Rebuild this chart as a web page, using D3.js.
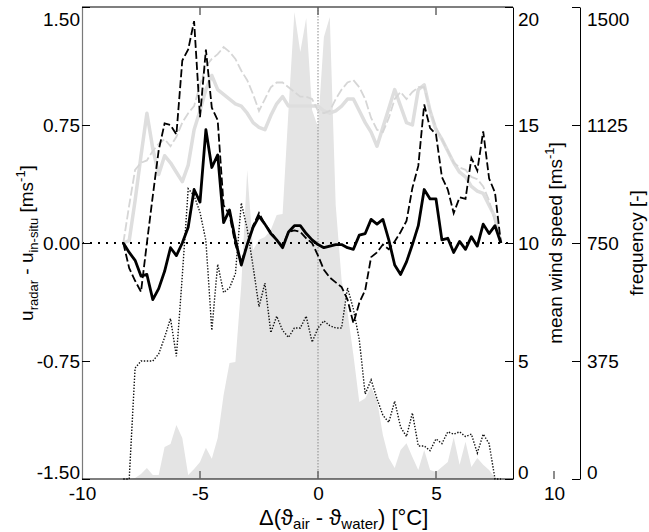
<!DOCTYPE html>
<html><head><meta charset="utf-8">
<script src="https://cdn.jsdelivr.net/npm/d3@7"></script>
<style>
body{margin:0;background:#fff}
svg text{font-family:"Liberation Sans",Arial,Helvetica,sans-serif;fill:#000}
</style>
</head><body>
<svg id="c" width="649" height="532"></svg>
<script>
// ---- DATA ----
const tempDiff = [-8.25,-8,-7.75,-7.5,-7.25,-7,-6.75,-6.5,-6.25,-6,-5.75,-5.5,-5.25,-5,-4.75,-4.5,-4.25,-4,-3.75,-3.5,-3.25,-3,-2.75,-2.5,-2.25,-2,-1.75,-1.5,-1.25,-1,-0.75,-0.5,-0.25,0,0.25,0.5,0.75,1,1.25,1.5,1.75,2,2.25,2.5,2.75,3,3.25,3.5,3.75,4,4.25,4.5,4.75,5,5.25,5.5,5.75,6,6.25,6.5,6.75,7,7.25,7.5,7.75];
// u_radar - u_in-situ (left axis)
const diffMean = [0.00,-0.06,-0.11,-0.21,-0.20,-0.36,-0.29,-0.18,-0.03,-0.08,0.00,0.10,0.34,0.26,0.72,0.48,0.56,0.13,0.21,0.02,-0.14,-0.01,0.10,0.17,0.12,0.06,0.02,-0.03,0.07,0.11,0.11,0.06,0.02,-0.01,-0.03,-0.02,-0.01,-0.01,-0.03,-0.04,0.05,0.06,0.15,0.12,0.15,0.02,-0.14,-0.20,-0.12,-0.01,0.11,0.34,0.28,0.28,0.02,0.03,-0.06,0.01,-0.04,0.04,-0.02,0.12,0.06,0.11,0.00];
const diffStd = [0,-0.16,-0.24,-0.31,0.00,0.30,0.59,0.76,0.75,0.69,1.16,1.23,1.41,0.80,1.23,0.86,0.78,0.24,0.18,-0.01,-0.12,-0.01,0.11,0.19,0.12,0.07,0.02,-0.02,0.07,0.08,0.07,0.03,0.00,-0.08,-0.17,-0.22,-0.25,-0.28,-0.36,-0.51,-0.38,-0.30,-0.09,-0.06,-0.01,-0.04,0.01,0.07,0.14,0.35,0.49,0.88,0.73,0.69,0.42,0.34,0.19,0.29,0.28,0.54,0.46,0.71,0.41,0.32,0.00];
// mean wind speed (middle axis)
const windRadar = [10.0,10.1,11.8,13.7,15.5,14.0,12.9,13.7,13.4,13.0,12.6,13.3,14.8,15.6,16.5,17.1,16.5,16.3,16.1,15.9,15.8,15.5,15.1,14.9,14.8,15.4,15.9,16.2,15.8,15.8,15.8,15.8,15.8,15.8,15.6,15.5,15.6,15.8,16.1,16.1,15.6,15.1,14.7,14.1,14.9,15.7,16.5,15.8,15.1,15.0,16.5,16.7,15.6,14.8,14.4,13.9,13.4,13.0,12.8,12.4,12.2,12.1,11.6,11.1,10.0];
const windInSitu = [10.0,11.6,13.1,13.4,13.5,13.9,14.2,14.4,14.1,14.5,15.1,15.5,15.8,16.7,17.5,17.8,18.0,18.3,18.1,17.8,17.3,16.9,16.3,15.6,16.1,16.6,16.8,16.8,16.6,16.4,16.2,16.2,16.1,15.6,15.5,15.6,16.1,16.5,16.8,16.9,16.6,16.1,15.3,14.8,14.7,15.3,16.1,16.4,16.1,16.4,16.6,16.6,15.6,14.9,14.4,13.9,13.4,13.2,13.1,12.8,12.7,12.4,11.8,10.9,10.0];
const windDotted = [0,0,4.7,5.0,5.0,5.0,5.3,6.0,6.8,5.2,8.6,12.3,12.0,11.3,10.1,6.3,9.1,7.9,8.1,8.7,11.7,10.6,9.0,7.3,8.3,6.2,6.9,6.3,6.0,6.4,6.4,6.9,5.8,6.4,6.7,6.5,6.4,6.4,8.1,7.2,5.9,3.6,4.2,3.4,2.7,2.4,3.3,2.2,1.8,2.8,1.4,1.4,1.2,1.7,1.5,2.0,1.9,2.0,1.8,1.9,1.1,1.9,1.5,0,0];
// frequency (right axis)
const frequency = [0,0,3,16,35,13,13,102,111,172,130,13,32,54,99,64,130,267,369,372,617,982,728,760,769,791,839,842,1173,1484,1357,1465,1173,1119,1405,1468,871,632,531,394,245,257,292,251,140,67,35,92,114,70,29,92,29,22,38,54,133,45,118,38,67,45,29,3,0];

const xTicks = [-10,-5,0,5,10];
const xTickLabels = ["-10","-5","0","5","10"];
const leftTicks = [-1.5,-0.75,0,0.75,1.5];
const leftTickLabels = ["-1.50","-0.75","0.00","0.75","1.50"];
const windTicks = [0,5,10,15,20];
const windTickLabels = ["0","5","10","15","20"];
const freqTicks = [0,375,750,1125,1500];
const freqTickLabels = ["0","375","750","1125","1500"];

// ---- SCALES ----
const svg = d3.select("#c");
const x = d3.scaleLinear().domain([-10,10]).range([82,554]);
const yL = d3.scaleLinear().domain([-1.5,1.5]).range([479,7]);
const yW = d3.scaleLinear().domain([0,20]).range([479,7]);
const yF = d3.scaleLinear().domain([0,1500]).range([479,7]);
const xR = 513; // right end of plot frame (wind axis)

// frequency area
svg.append("path")
  .attr("d", d3.area().x((d,i)=>x(tempDiff[i])).y0(yF(0)).y1(d=>yF(d))(frequency))
  .attr("fill","#e4e4e4");

// vertical dotted at 0
svg.append("line").attr("x1",x(0)).attr("x2",x(0)).attr("y1",yL(1.5)).attr("y2",yL(-1.5))
  .attr("stroke","#8a8a8a").attr("stroke-width",1).attr("stroke-dasharray","1.5,1.5");

const lineOn = (ys) => d3.line().x((d,i)=>x(tempDiff[i])).y(d=>ys(d));

svg.append("path").attr("d", lineOn(yW)(windRadar))
  .attr("fill","none").attr("stroke","#dedede").attr("stroke-width",3.5).attr("stroke-linejoin","round");
svg.append("path").attr("d", lineOn(yW)(windInSitu))
  .attr("fill","none").attr("stroke","#d6d6d6").attr("stroke-width",1.8).attr("stroke-dasharray","9,3");
svg.append("path").attr("d", lineOn(yW)(windDotted))
  .attr("fill","none").attr("stroke","#111").attr("stroke-width",1.4).attr("stroke-dasharray","1.4,1.6");

// zero line
svg.append("line").attr("x1",x(-10)).attr("x2",xR).attr("y1",yL(0)).attr("y2",yL(0))
  .attr("stroke","#000").attr("stroke-width",2).attr("stroke-dasharray","2,6");

svg.append("path").attr("d", lineOn(yL)(diffStd))
  .attr("fill","none").attr("stroke","#000").attr("stroke-width",1.8).attr("stroke-dasharray","8,3");
svg.append("path").attr("d", lineOn(yL)(diffMean))
  .attr("fill","none").attr("stroke","#000").attr("stroke-width",2.8).attr("stroke-linejoin","round");

// ---- AXES ----
const FS = 19;
function styleAxis(g, lab) {
  g.selectAll("text").attr("font-size",FS).attr("font-family",null).text((d,i)=>lab[i]);
  g.selectAll(".tick line").attr("stroke","#000");
}
// left
const gL = svg.append("g").attr("transform","translate(82,0)")
  .call(d3.axisLeft(yL).tickValues(leftTicks).tickSizeInner(-8).tickSizeOuter(0).tickPadding(2));
styleAxis(gL, leftTickLabels);
gL.select(".domain").attr("stroke","#7a7a7a").attr("stroke-width",1.2);

// wind axis
const gW = svg.append("g").attr("transform",`translate(${xR},0)`)
  .call(d3.axisRight(yW).tickValues(windTicks).tickSizeInner(-8).tickSizeOuter(0).tickPadding(5));
styleAxis(gW, windTickLabels);

// frequency axis
const gF = svg.append("g").attr("transform","translate(580,0)")
  .call(d3.axisRight(yF).tickValues(freqTicks).tickSizeInner(-8).tickSizeOuter(0).tickPadding(7));
styleAxis(gF, freqTickLabels);

// shift extreme labels inward
[gL,gW,gF].forEach(g=>{
  const t = g.selectAll(".tick text");
  const n = t.size();
  t.attr("transform",(d,i)=> i===0 ? "translate(0,-7)" : (i===n-1 ? "translate(0,12)" : null));
});

// bottom axis labels
const gB = svg.append("g").attr("transform","translate(0,479)")
  .call(d3.axisBottom(x).tickValues(xTicks).tickSize(0).tickPadding(8));
gB.select(".domain").remove();
gB.selectAll("text").attr("font-size",FS).attr("font-family",null).text((d,i)=>xTickLabels[i]);

// frame lines
svg.append("line").attr("x1",82).attr("x2",xR).attr("y1",479).attr("y2",479).attr("stroke","#000").attr("stroke-width",1.2);
svg.append("line").attr("x1",82).attr("x2",xR).attr("y1",7).attr("y2",7).attr("stroke","#000").attr("stroke-width",1.2);
// gray x ticks
svg.selectAll(".xtb").data([-5,0,5,10]).enter().append("line")
  .attr("x1",d=>x(d)).attr("x2",d=>x(d)).attr("y1",471).attr("y2",479).attr("stroke","#666").attr("stroke-width",1.5);
svg.selectAll(".xtt").data([-5,0,5]).enter().append("line")
  .attr("x1",d=>x(d)).attr("x2",d=>x(d)).attr("y1",7).attr("y2",15).attr("stroke","#666").attr("stroke-width",1.5);

// ---- TITLES ----
function rich(sel, parts, base, small, shift) {
  let cur = 0;
  parts.forEach(p=>{
    const target = p.sub ? shift : (p.sup ? -8 : 0);
    sel.append("tspan").attr("font-size", p.sub||p.sup ? small : base)
      .attr("dy", target - cur).text(p.t);
    cur = target;
  });
}
const tL = svg.append("text").attr("transform","translate(33,243) rotate(-90)").attr("text-anchor","middle").attr("font-size",FS);
rich(tL, [{t:"u"},{t:"radar",sub:1},{t:" - u"},{t:"in-situ",sub:1},{t:" [ms"},{t:"-1",sup:1},{t:"]"}], FS, 13, 5);

const tW = svg.append("text").attr("transform","translate(562,243) rotate(-90)").attr("text-anchor","middle").attr("font-size",FS);
rich(tW, [{t:"mean wind speed [ms"},{t:"-1",sup:1},{t:"]"}], FS, 13, 5);

svg.append("text").attr("transform","translate(643,243) rotate(-90)").attr("text-anchor","middle")
  .attr("font-size",FS).text("frequency [-]");

const tX = svg.append("text").attr("x",259).attr("y",525).attr("font-size",22);
rich(tX, [{t:"Δ(ϑ"},{t:"air",sub:1},{t:" - ϑ"},{t:"water",sub:1},{t:") [°C]"}], 22, 15, 3.5);
</script>
</body></html>
